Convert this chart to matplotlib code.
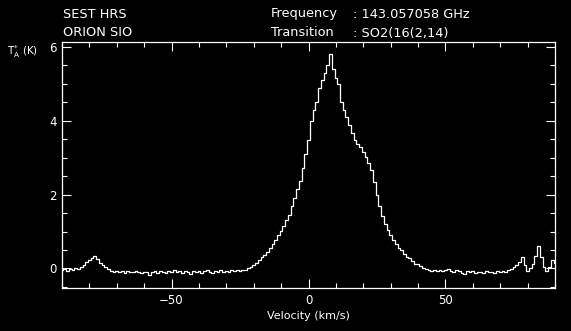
import numpy as np
import matplotlib
matplotlib.use("Agg")
import matplotlib.pyplot as plt
from matplotlib.ticker import MultipleLocator

# antenna temperature (K) on a 1 km/s velocity grid, -90 .. 90 km/s
velocity = np.arange(-90, 91, 1)
t_antenna = [
    -0.04, -0.02, -0.06, -0.01, -0.04, 0.01, -0.02, 0.05, 0.09, 0.18,   # -90..-81
    0.22, 0.28, 0.34, 0.26, 0.15, 0.08, 0.03, -0.02, -0.06, -0.09,      # -80..-71
    -0.07, -0.10, -0.08, -0.12, -0.07, -0.09, -0.11, -0.06, -0.10, -0.13,  # -70..-61
    -0.09, -0.11, -0.18, -0.10, -0.08, -0.12, -0.06, -0.10, -0.13, -0.07,  # -60..-51
    -0.09, -0.05, -0.11, -0.08, -0.12, -0.06, -0.09, -0.14, -0.07, -0.10,  # -50..-41
    -0.06, -0.12, -0.08, -0.05, -0.10, -0.13, -0.07, -0.09, -0.04, -0.10,  # -40..-31
    -0.06, -0.09, -0.04, -0.07, -0.05, -0.08, -0.03, -0.04, 0.00, 0.04,    # -30..-21
    0.10, 0.16, 0.24, 0.30, 0.37, 0.45, 0.54, 0.66, 0.78, 0.90,         # -20..-11
    1.02, 1.14, 1.30, 1.46, 1.68, 1.90, 2.16, 2.37, 2.72, 3.10,         # -10..-1
    3.47, 4.00, 4.30, 4.52, 4.88, 5.10, 5.28, 5.50, 5.82, 5.40,         # 0..9
    5.15, 5.00, 4.50, 4.30, 4.10, 3.88, 3.68, 3.48, 3.36, 3.28,         # 10..19
    3.15, 3.03, 2.85, 2.66, 2.35, 2.00, 1.70, 1.42, 1.20, 1.04,         # 20..29
    0.90, 0.76, 0.66, 0.56, 0.49, 0.40, 0.32, 0.27, 0.20, 0.13,         # 30..39
    0.12, 0.06, 0.02, -0.02, -0.04, -0.06, -0.03, -0.07, -0.04, -0.08,  # 40..49
    -0.05, -0.02, -0.06, -0.09, -0.05, -0.08, -0.12, -0.16, -0.07, -0.11,  # 50..59
    -0.08, -0.12, -0.09, -0.10, -0.13, -0.08, -0.11, -0.09, -0.12, -0.08,  # 60..69
    -0.10, -0.07, -0.09, -0.05, -0.02, 0.04, 0.10, 0.18, 0.30, 0.08,    # 70..79
    -0.06, 0.00, 0.12, 0.35, 0.60, 0.30, 0.05, -0.07, 0.04, 0.22,       # 80..89
    0.15,                                                               # 90
]

header_left = ["SEST HRS", "ORION SIO"]
header_keys = ["Frequency", "Transition"]
header_vals = [": 143.057058 GHz", ": SO2(16(2,14)"]

fg = "white"
plt.rcParams["font.family"] = "DejaVu Sans"

fig = plt.figure(figsize=(5.71, 3.31), dpi=100, facecolor="black")
ax = fig.add_axes([62 / 571, 1 - 288 / 331, (555 - 62) / 571, (288 - 41.7) / 331])
ax.set_facecolor("black")

ax.plot(velocity, t_antenna, color=fg, lw=0.9, drawstyle="steps-mid")

ax.set_xlim(-90, 90)
ax.set_ylim(-0.53, 6.14)
ax.xaxis.set_major_locator(MultipleLocator(50))
ax.xaxis.set_minor_locator(MultipleLocator(10))
ax.yaxis.set_major_locator(MultipleLocator(2))
ax.yaxis.set_minor_locator(MultipleLocator(0.5))
ax.tick_params(which="both", direction="in", top=True, right=True, color=fg,
               labelcolor=fg, width=0.8)
ax.tick_params(which="major", length=6.5, labelsize=8.5, pad=4)
ax.tick_params(which="minor", length=3.3)
ax.xaxis.set_major_formatter(plt.FuncFormatter(lambda v, p: f"{v:.0f}".replace("-", "\u2212")))
for s in ax.spines.values():
    s.set_color(fg)
    s.set_linewidth(0.9)

ax.set_xlabel("Velocity (km/s)", color=fg, fontsize=8, labelpad=3)

fig.text(7 / 571, 1 - 52 / 331, r"T$_{\rm A}^{*}$ (K)", color=fg, fontsize=7.5, va="center")

for i in range(2):
    y = 1 - (14 + 19 * i) / 331
    fig.text(63 / 571, y, header_left[i], color=fg, fontsize=9.3, va="center")
    fig.text(271 / 571, y, header_keys[i], color=fg, fontsize=9.3, va="center")
    fig.text(353 / 571, y, header_vals[i], color=fg, fontsize=9.3, va="center")

fig.savefig("out.png", dpi=100, facecolor="black")
